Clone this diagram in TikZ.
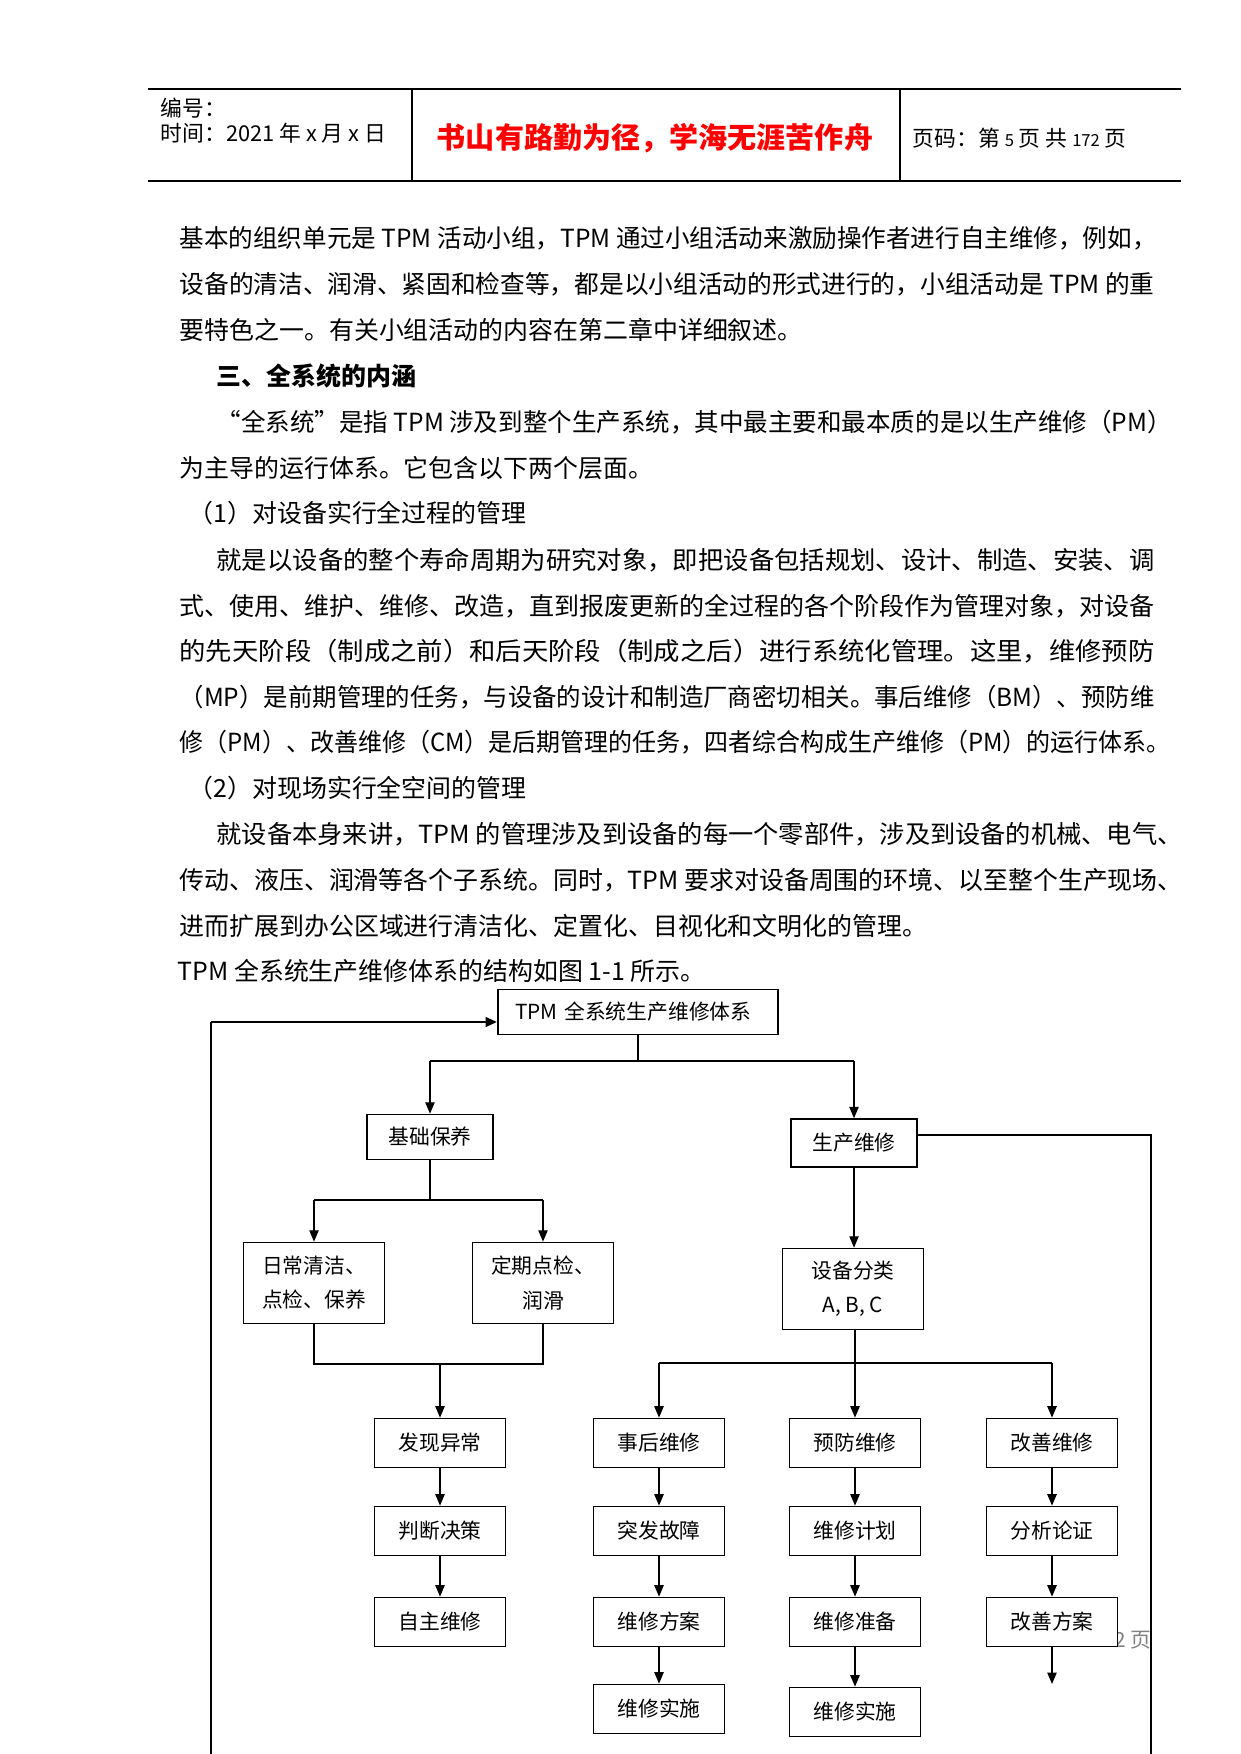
\documentclass[tikz,border=0pt]{standalone}
\usepackage{fontspec}
\setmainfont{Noto Sans CJK SC}
\usepackage{graphicx}
\usepackage{tikz}
\usetikzlibrary{positioning,arrows.meta}

\newlength\pxu
\setlength\pxu{0.1692mm}
% riga giustificata (larghezza in pixel)
\newcommand\riga[2]{\resizebox{#1\pxu}{\height}{#2}}

\begin{document}
\begin{tikzpicture}[
    x=0.1692mm, y=-0.1692mm,
    line width=0.6pt,
    >={Triangle[length=5.5pt,width=4.5pt]},
    hdr/.style={anchor=west, inner sep=0pt, font=\fontsize{10.5}{12}\selectfont},
    motto/.style={inner sep=0pt, text=red, font=\fontsize{14}{16}\selectfont\bfseries},
    txt/.style={anchor=west, inner sep=0pt, font=\fontsize{12}{15}\selectfont},
    box/.style={draw, line width=0.8pt, fill=white, minimum width=22.2mm, minimum height=8.3mm, inner sep=1pt, font=\fontsize{10}{12}\selectfont},
    bigbox/.style={box, minimum width=23.9mm, minimum height=13.7mm, align=center, font=\fontsize{10}{16.4}\selectfont},
    bus/.style={line width=1.4pt}
  ]
  \useasboundingbox[fill=white] (0,0) rectangle (1241,1754);

  % intestazione
  \draw (148,89) -- (1181,89);
  \draw (148,181) -- (1181,181);
  \draw (412,89) -- (412,181);
  \draw (900,89) -- (900,181);
  \node[hdr] (num) at (160,108) {编号：};
  \node[hdr] (time) at (160,133) {时间：2021 年 x 月 x 日};
  \node[motto] (motto) at (655,138) {书山有路勤为径，学海无涯苦作舟};
  \node[hdr] (page) at (912,138) {页码：第 {\fontsize{8}{10}\selectfont 5} 页 共 {\fontsize{8}{10}\selectfont 172} 页};

  % testo
  \node[txt] (l1) at (179,238) {\riga{977}{基本的组织单元是 TPM 活动小组，TPM 通过小组活动来激励操作者进行自主维修，例如，}};
  \node[txt] (l2) at (179,284) {\riga{975}{设备的清洁、润滑、紧固和检查等，都是以小组活动的形式进行的，小组活动是 TPM 的重}};
  \node[txt] (l3) at (179,330) {要特色之一。有关小组活动的内容在第二章中详细叙述。};
  \node[txt, font=\fontsize{12}{15}\selectfont\bfseries] (l4) at (216,376) {三、全系统的内涵};
  \node[txt] (l5) at (216,422) {\riga{955}{“全系统”是指 TPM 涉及到整个生产系统，其中最主要和最本质的是以生产维修（PM）}};
  \node[txt] (l6) at (179,468) {为主导的运行体系。它包含以下两个层面。};
  \node[txt] (l7) at (188,513) {（1）对设备实行全过程的管理};
  \node[txt] (l8) at (216,560) {\riga{938}{就是以设备的整个寿命周期为研究对象，即把设备包括规划、设计、制造、安装、调}};
  \node[txt] (l9) at (179,606) {\riga{975}{式、使用、维护、维修、改造，直到报废更新的全过程的各个阶段作为管理对象，对设备}};
  \node[txt] (l10) at (179,651) {\riga{975}{的先天阶段（制成之前）和后天阶段（制成之后）进行系统化管理。这里，维修预防}};
  \node[txt] (l11) at (179,697) {\riga{975}{（MP）是前期管理的任务，与设备的设计和制造厂商密切相关。事后维修（BM）、预防维}};
  \node[txt] (l12) at (179,742) {\riga{991}{修（PM）、改善维修（CM）是后期管理的任务，四者综合构成生产维修（PM）的运行体系。}};
  \node[txt] (l13) at (188,788) {（2）对现场实行全空间的管理};
  \node[txt] (l14) at (216,834) {\riga{966}{就设备本身来讲，TPM 的管理涉及到设备的每一个零部件，涉及到设备的机械、电气、}};
  \node[txt] (l15) at (179,880) {\riga{1003}{传动、液压、润滑等各个子系统。同时，TPM 要求对设备周围的环境、以至整个生产现场、}};
  \node[txt] (l16) at (179,926) {进而扩展到办公区域进行清洁化、定置化、目视化和文明化的管理。};
  \node[txt] (l17) at (177,971) {TPM 全系统生产维修体系的结构如图 1-1 所示。};

  % pie di pagina coperto
  \node[inner sep=0pt, text=gray, font=\fontsize{10}{12}\selectfont] (foot) at (1133,1640) {2 页};

  % nodi
  \node[box, minimum width=47.4mm, minimum height=7.6mm, text width=41.6mm, inner xsep=2.9mm, align=left] (tpm) at (638,1012) {TPM 全系统生产维修体系};
  \node[box, minimum width=21.3mm, minimum height=7.6mm] (jcby) at (430,1137) {基础保养};
  \node[box, minimum width=21.3mm, minimum height=8.1mm] (scwx) at (854,1143) {生产维修};
  \node[bigbox] (rcqj) at (314,1283) {日常清洁、\\点检、保养};
  \node[bigbox] (dqdj) at (543,1283) {定期点检、\\润滑};
  \node[bigbox] (sbfl) at (853,1289) {设备分类\\A, B, C};

  \node[box] (fxyc) at (440,1443) {发现异常};
  \node[box] (pdjc) at (440,1531) {判断决策};
  \node[box] (zzwx) at (440,1622) {自主维修};

  \node[box] (shwx) at (659,1443) {事后维修};
  \node[box] (tfgz) at (659,1531) {突发故障};
  \node[box] (wxfa) at (659,1622) {维修方案};
  \node[box] (wxssa) at (659,1709) {维修实施};

  \node[box] (yfwx) at (855,1443) {预防维修};
  \node[box] (wxjh) at (855,1531) {维修计划};
  \node[box] (wxzb) at (855,1622) {维修准备};
  \node[box] (wxssb) at (855,1712) {维修实施};

  \node[box] (gswx) at (1052,1443) {改善维修};
  \node[box] (fxlz) at (1052,1531) {分析论证};
  \node[box] (gsfa) at (1052,1622) {改善方案};

  % collegamenti
  \coordinate (fbbot) at (211,1754);
  \coordinate (fbtop) at (211,1022);
  \draw (fbbot) -- (fbtop);
  \draw[bus,->] (fbtop) -- (fbtop -| tpm.west);

  \coordinate (rtop) at (1151,1135);
  \coordinate (rbot) at (1151,1754);
  \draw (scwx.east |- rtop) -- (rtop) -- (rbot);

  \coordinate (f1) at (638,1061);
  \draw (tpm.south) -- (f1);
  \draw[bus] (jcby.north |- f1) -- (scwx.north |- f1);
  \draw[->] (jcby.north |- f1) -- (jcby.north);
  \draw[->] (scwx.north |- f1) -- (scwx.north);

  \coordinate (f2) at (430,1200);
  \draw (jcby.south) -- (f2);
  \draw (rcqj.north |- f2) -- (dqdj.north |- f2);
  \draw[->] (rcqj.north |- f2) -- (rcqj.north);
  \draw[->] (dqdj.north |- f2) -- (dqdj.north);

  \coordinate (f3) at (440,1364);
  \draw (rcqj.south) -- (rcqj.south |- f3) -- (dqdj.south |- f3) -- (dqdj.south);
  \draw[->] (f3) -- (fxyc.north);

  \draw[->] (scwx.south) -- (scwx.south |- sbfl.north);

  \coordinate (f4) at (855,1363);
  \draw (sbfl.south -| f4) -- (f4);
  \draw[bus] (shwx.north |- f4) -- (gswx.north |- f4);
  \draw[->] (shwx.north |- f4) -- (shwx.north);
  \draw[->] (f4) -- (yfwx.north);
  \draw[->] (gswx.north |- f4) -- (gswx.north);

  % colonne
  \draw[->] (fxyc) -- (pdjc);
  \draw[->] (pdjc) -- (zzwx);
  \draw[->] (shwx) -- (tfgz);
  \draw[->] (tfgz) -- (wxfa);
  \draw[->] (wxfa) -- (wxssa);
  \draw[->] (yfwx) -- (wxjh);
  \draw[->] (wxjh) -- (wxzb);
  \draw[->] (wxzb) -- (wxssb);
  \draw[->] (gswx) -- (fxlz);
  \draw[->] (fxlz) -- (gsfa);

  \coordinate (gsend) at (1052,1684);
  \draw[->] (gsfa) -- (gsend);

\end{tikzpicture}
\end{document}
